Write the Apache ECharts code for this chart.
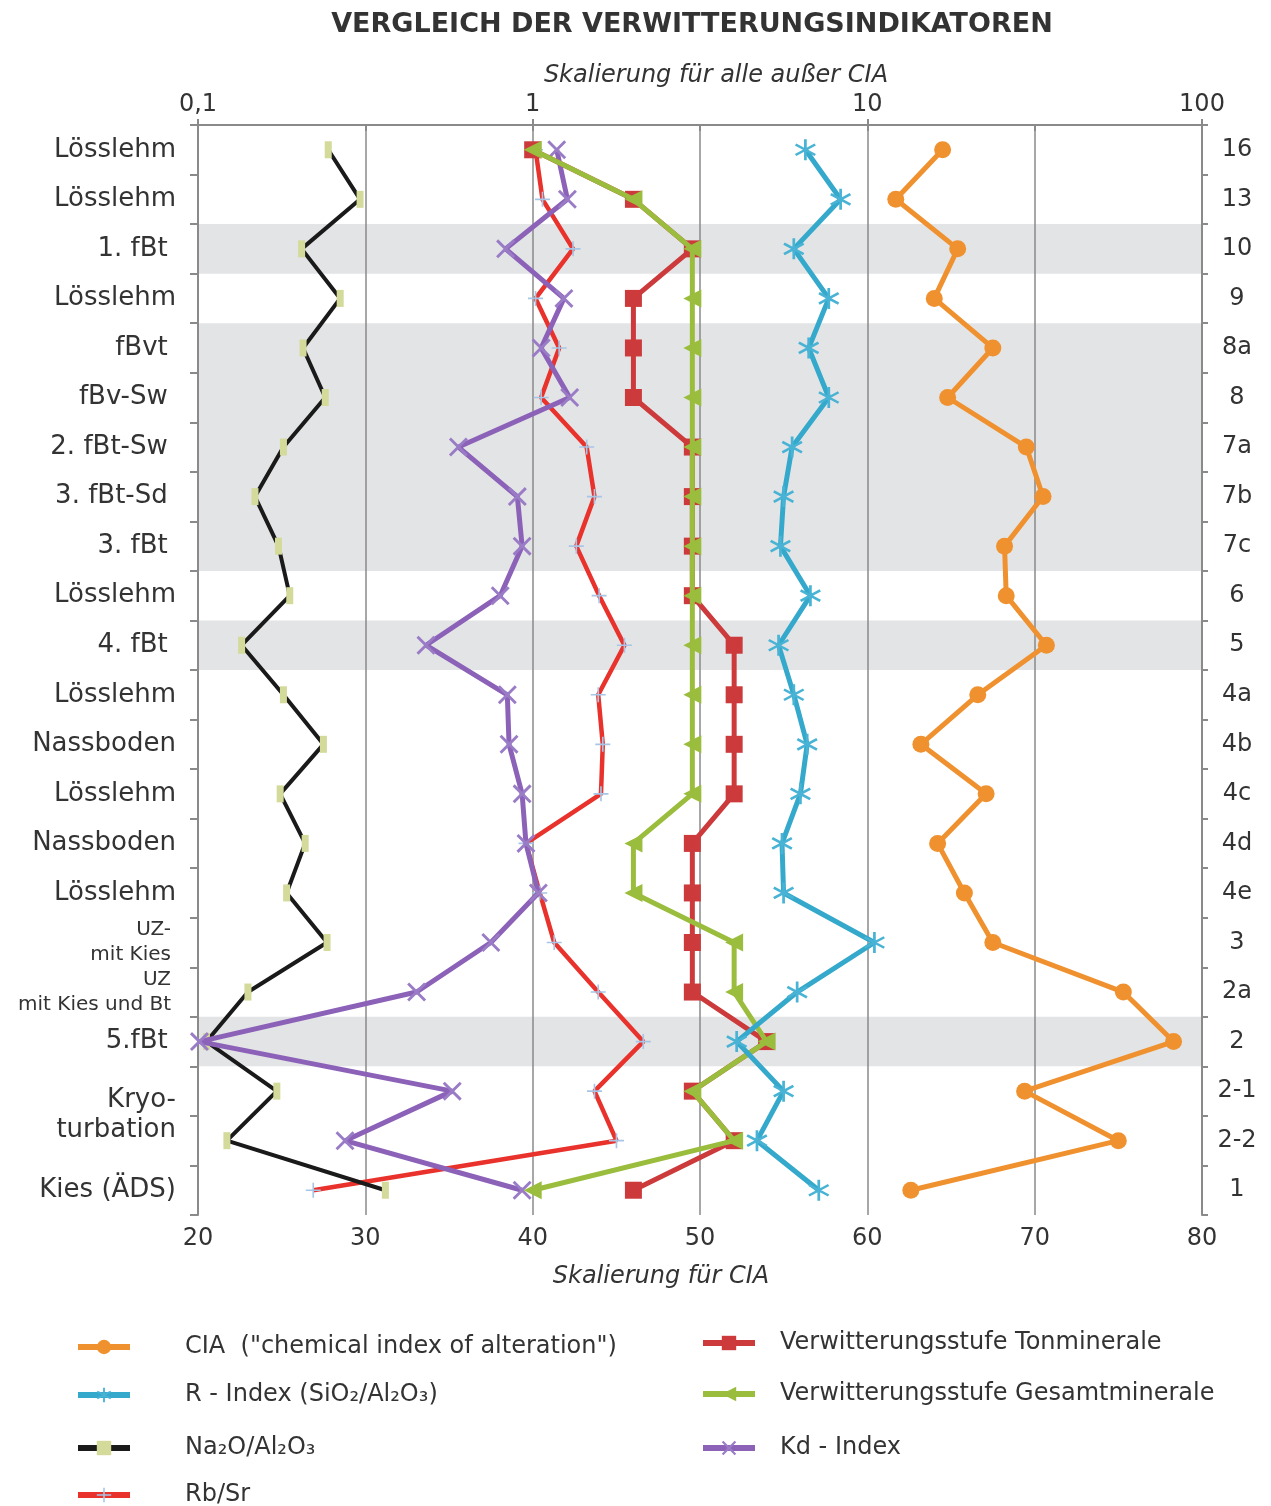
<!DOCTYPE html>
<html>
<head>
<meta charset="utf-8">
<script src="https://cdn.jsdelivr.net/npm/echarts@6/dist/echarts.min.js"></script>
<style>
html,body{margin:0;padding:0;background:#ffffff;}
#chart{width:1271px;height:1506px;}
</style>
</head>
<body>
<div id="chart"></div>
<script>
// ---- data ----
const codes = ['16','13','10','9','8a','8','7a','7b','7c','6','5','4a','4b','4c','4d','4e','3','2a','2','2-1','2-2','1'];
const horizonNames = ['Lösslehm','Lösslehm','1. fBt','Lösslehm','fBvt','fBv-Sw','2. fBt-Sw','3. fBt-Sd','3. fBt','Lösslehm','4. fBt','Lösslehm','Nassboden','Lösslehm','Nassboden','Lösslehm','UZ-\nmit Kies','UZ\nmit Kies und Bt','5.fBt','Kryo-','turbation','Kies (ÄDS)'];
const shadedRanges = [['10','10'],['8a','7c'],['5','5'],['2','2']];

const cia = [64.5,61.7,65.4,64.0,67.5,64.8,69.5,70.5,68.2,68.3,70.7,66.6,63.2,67.1,64.2,65.8,67.5,75.3,78.3,69.4,75.0,62.6];
const rIndex = [6.53,8.32,6.03,7.67,6.68,7.67,5.96,5.62,5.50,6.76,5.43,6.03,6.61,6.31,5.56,5.62,10.5,6.17,4.07,5.62,4.68,7.16];
const na2oAl2o3 = [0.245,0.305,0.204,0.266,0.206,0.240,0.180,0.148,0.174,0.188,0.135,0.180,0.237,0.176,0.209,0.184,0.243,0.141,0.106,0.172,0.122,0.363];
const rbSr = [1.02,1.07,1.32,1.02,1.20,1.06,1.45,1.53,1.35,1.58,1.88,1.57,1.62,1.60,0.955,1.05,1.16,1.57,2.14,1.53,1.78,0.221];
const stufeTon = [1,2,3,2,2,2,3,3,3,3,4,4,4,4,3,3,3,3,5,3,4,2];
const stufeGesamt = [1,2,3,3,3,3,3,3,3,3,3,3,3,3,2,2,4,4,5,3,4,1];
const kdIndex = [1.18,1.27,0.83,1.24,1.06,1.29,0.60,0.90,0.93,0.80,0.48,0.84,0.85,0.93,0.955,1.04,0.75,0.45,0.101,0.575,0.275,0.93];

const logTicks = [0.1, 1, 10, 100];
const ciaTicks = [20, 30, 40, 50, 60, 70, 80];

const names = {
  cia: 'CIA  ("chemical index of alteration")',
  r: 'R - Index (SiO₂/Al₂O₃)',
  na: 'Na₂O/Al₂O₃',
  rb: 'Rb/Sr',
  ton: 'Verwitterungsstufe Tonminerale',
  ges: 'Verwitterungsstufe Gesamtminerale',
  kd: 'Kd - Index'
};

// ---- styling helpers ----
const FONT = 'DejaVu Sans';
const AX = '#8a8a8a';
const asterisk = 'path://M8.8,0 L11.2,0 L11.2,20 L8.8,20 Z M18.06,16.04 L0.74,6.04 L1.94,3.96 L19.26,13.96 Z M0.74,13.96 L18.06,3.96 L19.26,6.04 L1.94,16.04 Z';
const cross = 'path://M16.22,17.92 L2.08,3.78 L3.78,2.08 L17.92,16.22 Z M2.08,16.22 L16.22,2.08 L17.92,3.78 L3.78,17.92 Z';
const plus = 'path://M8.9,0 L11.1,0 L11.1,20 L8.9,20 Z M0,8.9 L20,8.9 L20,11.1 L0,11.1 Z';

const pairs = arr => arr.map((v, i) => [v, codes[i]]);
const smallNames = new Set(['UZ-\nmit Kies', 'UZ\nmit Kies und Bt']);

function leftLabel(val, idx) {
  const n = horizonNames[idx];
  if (smallNames.has(n)) return n.split('\n').map(s => '{s|' + s + '}').join('\n');
  if (n === 'Kryo-') return '{k1|Kryo-}';
  if (n === 'turbation') return '{k2|turbation}';
  if (/fB/.test(n)) return n + ' ';
  return n;
}

function lineSeries(name, data, color, width, symbol, size, symColor, xi, z, extra) {
  return Object.assign({
    name: name, type: 'line', xAxisIndex: xi, yAxisIndex: 0,
    data: pairs(data), z: z,
    lineStyle: {color: color, width: width},
    itemStyle: {color: symColor || color, borderWidth: 0},
    symbol: symbol, symbolSize: size, showSymbol: true,
    emphasis: {disabled: true}, animation: false
  }, extra || {});
}

function legendItem(name, left, centerY, textGap) {
  return {
    orient: 'horizontal', left: left, top: centerY - 13, itemWidth: 52, itemHeight: 18,
    lineStyle: {width: 6},
    textStyle: {fontFamily: FONT, fontSize: 24, color: '#333', lineHeight: 26, padding: [0, 0, 0, textGap]},
    data: [name], selectedMode: false
  };
}

const chart = echarts.init(document.getElementById('chart'), null, {renderer: 'canvas'});
const option = {
  backgroundColor: '#ffffff',
  animation: false,
  textStyle: {fontFamily: FONT},
  graphic: [{
    type: 'text', x: 692, y: 25,
    style: {text: 'VERGLEICH DER VERWITTERUNGSINDIKATOREN', font: 'bold 27px "DejaVu Sans"', fill: '#333', textAlign: 'center', textVerticalAlign: 'middle'}
  }],
  grid: {left: 198, right: 69, top: 125, bottom: 291, containLabel: false},
  xAxis: [{
    type: 'value', position: 'bottom', min: 20, max: 80, interval: 10, z: 2,
    name: 'Skalierung für CIA', nameLocation: 'middle', nameGap: 50,
    nameTextStyle: {fontFamily: FONT, fontStyle: 'italic', fontSize: 24, color: '#333', padding: [0, 78, 0, 0]},
    axisLine: {show: true, lineStyle: {color: AX, width: 2}},
    axisTick: {show: true, length: 6, lineStyle: {color: AX, width: 2}},
    axisLabel: {fontFamily: FONT, fontSize: 24, color: '#333', margin: 12,
      formatter: v => ciaTicks.includes(v) ? String(v) : ''},
    splitLine: {show: true, lineStyle: {color: AX, width: 1.5}}
  }, {
    type: 'log', logBase: 10, position: 'top', min: 0.1, max: 100, z: 2,
    name: 'Skalierung für alle außer CIA', nameLocation: 'middle', nameGap: 36,
    nameTextStyle: {fontFamily: FONT, fontStyle: 'italic', fontSize: 24, color: '#333', padding: [0, 0, 0, 32]},
    axisLine: {show: true, lineStyle: {color: AX, width: 2}},
    axisTick: {show: true, length: 6, lineStyle: {color: AX, width: 2}},
    minorTick: {show: false},
    axisLabel: {fontFamily: FONT, fontSize: 24, color: '#333', margin: 8,
      formatter: v => {
        const r = Math.round(v * 1000) / 1000;
        return logTicks.includes(r) ? String(r).replace('.', ',') : '';
      }},
    splitLine: {show: false}
  }],
  yAxis: [{
    type: 'category', data: codes, inverse: true, position: 'left', z: 2,
    boundaryGap: true,
    axisLine: {show: true, lineStyle: {color: AX, width: 2}},
    axisTick: {show: true, length: 8, lineStyle: {color: AX, width: 2}},
    axisLabel: {fontFamily: FONT, fontSize: 26, color: '#333', margin: 22, formatter: leftLabel,
      rich: {
        s: {fontFamily: FONT, fontSize: 20, lineHeight: 25, color: '#333', padding: [0, 5, 0, 0]},
        k1: {fontFamily: FONT, fontSize: 26, color: '#333', padding: [18, 0, 0, 0]},
        k2: {fontFamily: FONT, fontSize: 26, color: '#333', padding: [0, 0, 20, 0]}
      }},
    splitLine: {show: false}
  }, {
    type: 'category', data: codes, inverse: true, position: 'right', z: 2,
    boundaryGap: true,
    axisLine: {show: true, lineStyle: {color: AX, width: 2}},
    axisTick: {show: true, length: 6, lineStyle: {color: AX, width: 2}},
    axisLabel: {fontFamily: FONT, fontSize: 24, color: '#333', margin: 35, align: 'center'},
    splitLine: {show: false}
  }, {
    type: 'value', min: 0, max: codes.length, inverse: true, show: false
  }],
  legend: [
    legendItem(names.cia, 70, 1342, 50),
    legendItem(names.r, 70, 1390, 50),
    legendItem(names.na, 70, 1443, 50),
    legendItem(names.rb, 70, 1490, 50),
    legendItem(names.ton, 695, 1338, 20),
    legendItem(names.ges, 695, 1389, 20),
    legendItem(names.kd, 695, 1443, 20)
  ],
  series: [
    {
      name: 'bands', type: 'line', xAxisIndex: 0, yAxisIndex: 2, data: [], z: 1, silent: true,
      markArea: {
        silent: true, itemStyle: {color: '#e3e4e6'},
        data: shadedRanges.map(([a, b]) => [{yAxis: codes.indexOf(a)}, {yAxis: codes.indexOf(b) + 1}])
      }
    },
    lineSeries(names.rb, rbSr, '#e8322b', 4.5, plus, 15, '#a7c5e6', 1, 5),
    lineSeries(names.na, na2oAl2o3, '#1a1a1a', 4, 'rect', [7, 17], '#d4da9a', 1, 6),
    lineSeries(names.kd, kdIndex, '#8c62b9', 5, cross, 19, '#9a7cc6', 1, 7),
    lineSeries(names.ton, stufeTon, '#cc3a3b', 5, 'rect', 17, '#cc3a3b', 1, 8),
    lineSeries(names.ges, stufeGesamt, '#9bbd3d', 5, 'triangle', 18, '#9bbd3d', 1, 9, {symbolRotate: 90}),
    lineSeries(names.r, rIndex, '#34a9cb', 5, asterisk, 21, '#48b3d4', 1, 10),
    lineSeries(names.cia, cia, '#f0912f', 5, 'circle', 17, '#f0912f', 0, 11)
  ]
};
chart.setOption(option);
</script>
</body>
</html>
